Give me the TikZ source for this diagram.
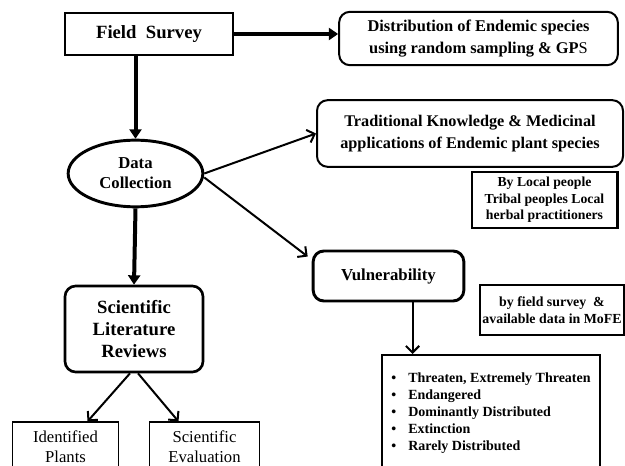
\documentclass[tikz,border=0pt]{standalone}
\usepackage{fontspec}
\setmainfont{Liberation Serif}
\usetikzlibrary{arrows.meta, positioning, shapes.geometric}

\begin{document}
\begin{tikzpicture}[
    x=0.75pt, y=-0.75pt,
    box/.style={draw, line width=#1, align=center, inner sep=3pt, font=\bfseries},
    rbox/.style={box=#1, rounded corners=8pt},
    big/.style={->, line width=3pt, >={Triangle[length=7pt, width=9pt]}},
    thin/.style={->, line width=1.5pt, >={Straight Barb[length=5pt, width=10pt]}},
  ]
  \clip (0,0) rectangle (625,466);
  % ---- left column
  \node[box=1.5pt, minimum width=126pt, minimum height=31.5pt, font=\bfseries\fontsize{14}{16}\selectfont] (fs) at (149,34) {Field\ \ Survey};
  \node[ellipse, draw, line width=2.2pt, minimum width=101pt, minimum height=50pt, align=center, inner sep=1pt, font=\bfseries\fontsize{12.5}{15}\selectfont] (dc) at (135.5,173.5) {Data\\ Collection};
  \node[rbox=2pt, minimum width=103.5pt, minimum height=64.5pt, font=\bfseries\fontsize{14}{16.5}\selectfont] (slr) at (134,329) {Scientific\\ Literature\\ Reviews};
  \node[box=0.8pt, minimum width=80pt, minimum height=37.5pt, font=\fontsize{12.5}{15}\selectfont] (idp) at (65.5,447) {Identified\\ Plants};
  \node[box=0.8pt, minimum width=82pt, minimum height=37.5pt, font=\fontsize{12.5}{15}\selectfont] (sev) at (204.5,447) {Scientific\\ Evaluation};
  % ---- right column
  \node[rbox=1.5pt, minimum width=209pt, minimum height=40pt, font=\bfseries\fontsize{12.3}{16}\selectfont] (dist) at (478.5,38.5) {Distribution of Endemic species\\ using random sampling \& GP{\mdseries S}};
  \node[rbox=1.5pt, minimum width=229.5pt, minimum height=50pt, font=\bfseries\fontsize{12.2}{16}\selectfont] (trad) at (470,133.5) {Traditional Knowledge \& Medicinal\\ applications of Endemic plant species};
  \node[box=2pt, minimum width=109pt, minimum height=42pt, inner sep=1pt, font=\bfseries\fontsize{10.3}{12.5}\selectfont] (local) at (544.5,200) {By Local people\\ Tribal peoples Local\\ herbal practitioners};
  \node[rbox=2.2pt, minimum width=113pt, minimum height=37.5pt, font=\bfseries\fontsize{12.6}{14}\selectfont] (vul) at (388.5,276) {Vulnerability};
  \node[box=1.5pt, minimum width=108pt, minimum height=37.5pt, inner sep=1pt, font=\bfseries\fontsize{10.4}{13}\selectfont] (mofe) at (552,310) {by field survey \ \&\\ available data in MoFE};
  \node[box=1.5pt, minimum width=163.5pt, minimum height=87pt, align=left, inner sep=6pt, font=\bfseries\fontsize{10.5}{12.8}\selectfont] (list) at (491,413) {%
    \textbullet\hspace{9pt}Threaten, Extremely Threaten\\
    \textbullet\hspace{9pt}Endangered\\
    \textbullet\hspace{9pt}Dominantly Distributed\\
    \textbullet\hspace{9pt}Extinction\\
    \textbullet\hspace{9pt}Rarely Distributed};
  % ---- arrows
  \draw[big] (fs.east) -- (fs.east -| dist.west);
  \draw[big] (fs.south -| dc.north) -- (dc.north);
  \draw[big] (dc.south) -- (slr.north);
  \draw[thin] (dc.east) -- (trad.west);
  \draw[thin] ([yshift=-3pt]dc.east) -- ([shift={(-4,7)}]vul.north west);
  \draw[thin] ([xshift=18pt]vul.south) -- ([xshift=18pt]vul.south |- list.north);
  \draw[thin] ([xshift=-3pt]slr.south) -- ([xshift=16.5pt]idp.north);
  \draw[thin] ([xshift=3pt]slr.south) -- ([xshift=-19.5pt]sev.north);
\end{tikzpicture}
\end{document}
